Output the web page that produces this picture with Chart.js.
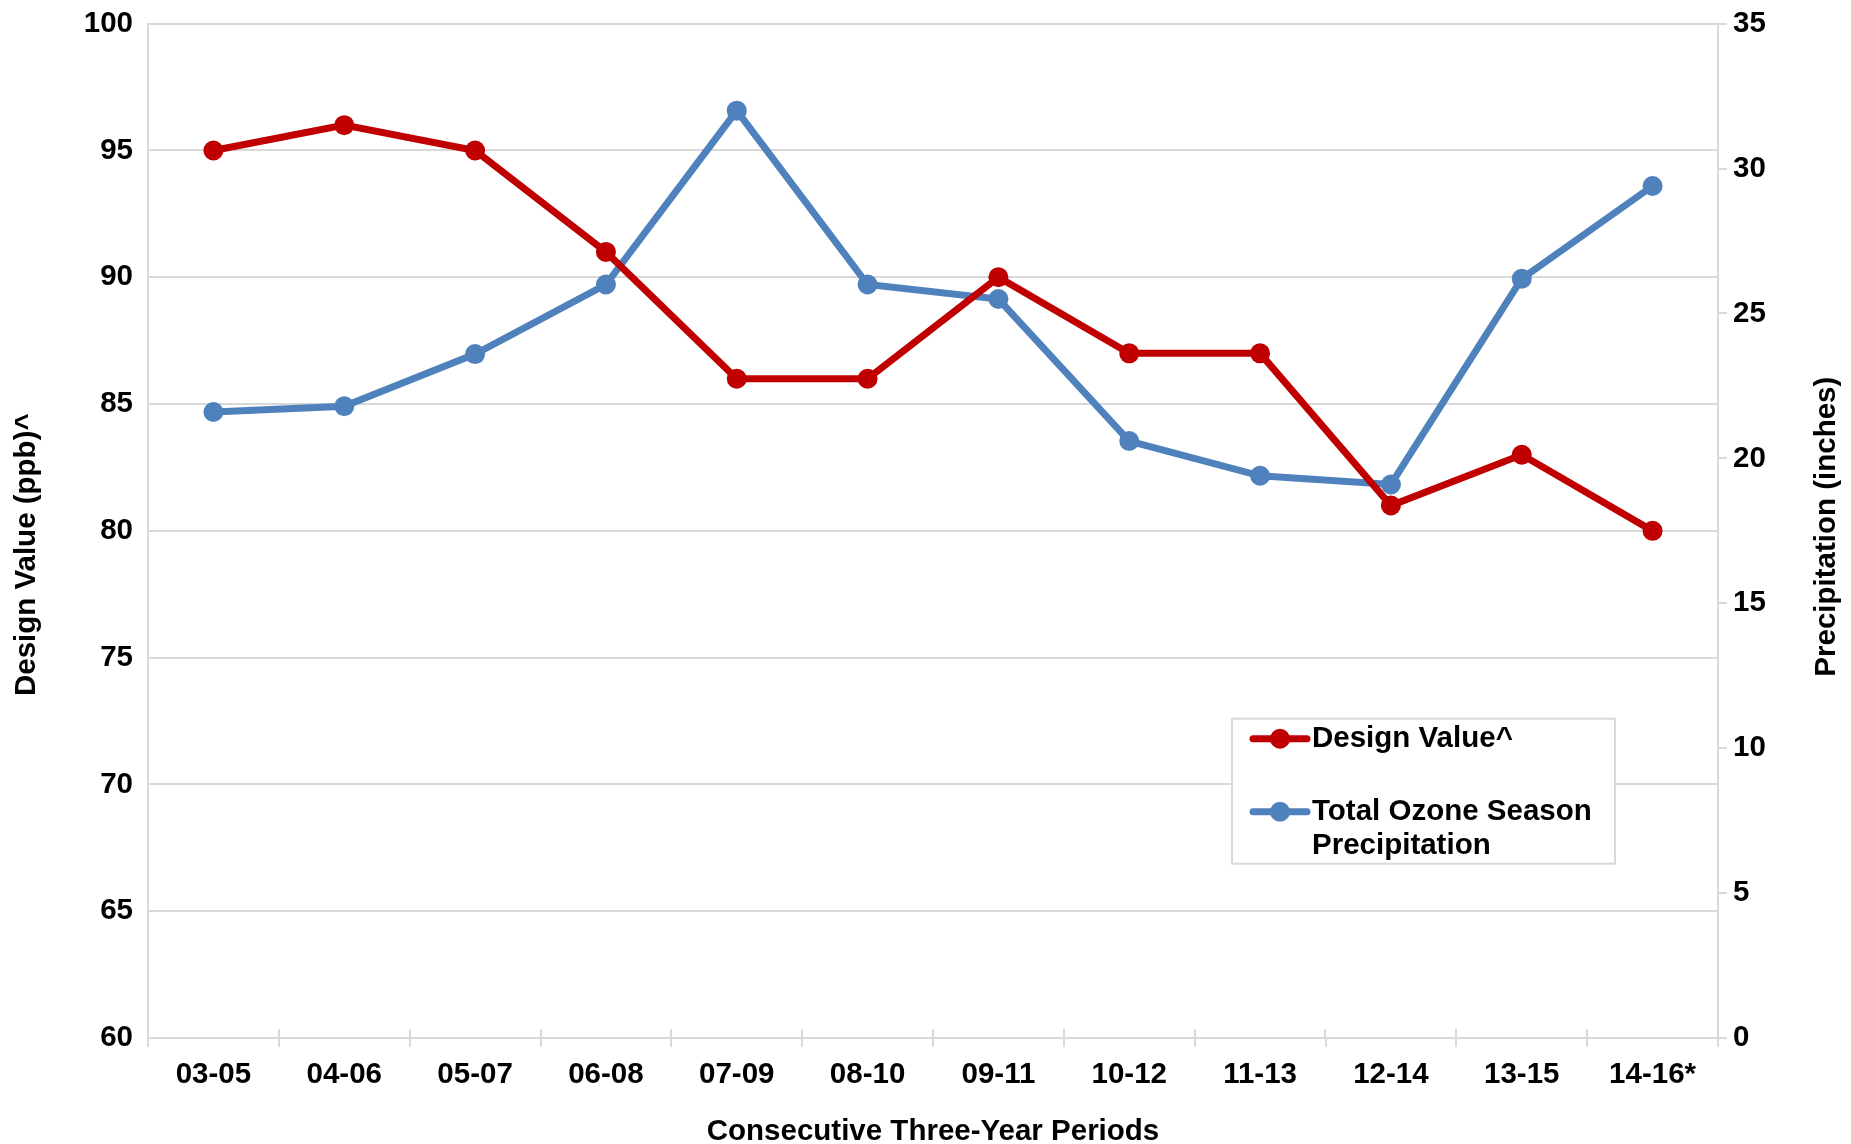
<!DOCTYPE html>
<html>
<head>
<meta charset="utf-8">
<title>Design Value vs Ozone Season Precipitation</title>
<script src="https://cdn.jsdelivr.net/npm/chart.js"></script>
<style>
  body { margin: 0; background: #fff; }
  #my-chart { display: block; }
</style>
</head>
<body>
<canvas id="my-chart" width="1851" height="1144"></canvas>
<script>
'use strict';

// DATA
let periods = ['03-05', '04-06', '05-07', '06-08', '07-09', '08-10', '09-11', '10-12', '11-13', '12-14', '13-15', '14-16*'];
let designValues = [95, 96, 95, 91, 86, 86, 90, 87, 87, 81, 83, 80];
let precipValues = [21.6, 21.8, 23.6, 26.0, 32.0, 26.0, 25.5, 20.6, 19.4, 19.1, 26.2, 29.4];
let designTicks = [60, 65, 70, 75, 80, 85, 90, 95, 100];
let precipTicks = [0, 5, 10, 15, 20, 25, 30, 35];

let designLabel = ['Design Value^'];
let precipLabel = ['Total Ozone Season', 'Precipitation'];

// STYLE
let red = '#c00000';
let blue = '#4f81bd';
let gridGray = '#d9d9d9';
let fontFamily = '"Liberation Sans", Arial, sans-serif';
let fontSize = 29.5;
let boldFont = { family: fontFamily, size: fontSize, weight: 'bold' };

let canvasElem = document.getElementById('my-chart');

// legend box inside the plot, small x ticks above the axis, both y titles (bottom-to-top)
let extrasPlugin = {
  id: 'extras',
  afterDraw(chart) {
    let ctx = chart.ctx;
    let area = chart.chartArea;
    let xScale = chart.scales.x;

    ctx.save();

    // x tick marks poke up into the plot a little
    ctx.strokeStyle = gridGray;
    ctx.lineWidth = 2;
    let step = xScale.getPixelForValue(1) - xScale.getPixelForValue(0);
    ctx.beginPath();
    for (let i = 0; i <= periods.length; i++) {
      let x = Math.round(xScale.getPixelForValue(i) - step / 2);
      ctx.moveTo(x, area.bottom);
      ctx.lineTo(x, area.bottom - 9);
    }
    ctx.stroke();

    let boxX = area.right - 486;
    let boxY = area.top + 695;
    let boxW = 383;
    let boxH = 145;

    ctx.fillStyle = '#fff';
    ctx.fillRect(boxX, boxY, boxW, boxH);
    ctx.strokeRect(boxX, boxY, boxW, boxH);

    let entries = [
      { color: red, lines: designLabel, y: boxY + 20 },
      { color: blue, lines: precipLabel, y: boxY + 93 }
    ];
    ctx.font = 'bold ' + fontSize + 'px ' + fontFamily;
    ctx.textBaseline = 'middle';
    ctx.textAlign = 'left';
    for (let i = 0; i < entries.length; i++) {
      let e = entries[i];
      ctx.strokeStyle = e.color;
      ctx.lineWidth = 7;
      ctx.lineCap = 'round';
      ctx.beginPath();
      ctx.moveTo(boxX + 21, e.y);
      ctx.lineTo(boxX + 75, e.y);
      ctx.stroke();
      ctx.fillStyle = e.color;
      ctx.beginPath();
      ctx.arc(boxX + 48, e.y, 10, 0, Math.PI * 2);
      ctx.fill();
      ctx.fillStyle = '#000';
      for (let j = 0; j < e.lines.length; j++) {
        ctx.fillText(e.lines[j], boxX + 80, e.y + j * 34);
      }
    }

    ctx.textAlign = 'center';
    ctx.save();
    ctx.translate(27, area.top + 531);
    ctx.rotate(-Math.PI / 2);
    ctx.fillText('Design Value (ppb)^', 0, 0);
    ctx.restore();

    ctx.translate(chart.width - 24, area.top + 503);
    ctx.rotate(-Math.PI / 2);
    ctx.fillText('Precipitation (inches)', 0, 0);
    ctx.restore();
  }
};

let theChart = {
  type: 'line',
  data: {
    labels: periods,
    datasets: [{
      label: designLabel.join(' '),
      data: designValues,
      yAxisID: 'y',
      borderColor: red,
      backgroundColor: red,
      borderWidth: 7,
      pointRadius: 10,
      pointBorderWidth: 0,
      pointBackgroundColor: red,
      tension: 0
    },
    {
      label: precipLabel.join(' '),
      data: precipValues,
      yAxisID: 'y1',
      borderColor: blue,
      backgroundColor: blue,
      borderWidth: 7,
      pointRadius: 10,
      pointBorderWidth: 0,
      pointBackgroundColor: blue,
      tension: 0
    }]
  },
  options: {
    responsive: false,
    animation: false,
    layout: {
      padding: 0
    },
    plugins: {
      legend: { display: false },
      tooltip: { enabled: false }
    },
    scales: {
      x: {
        offset: true,
        grid: {
          offset: true,
          drawOnChartArea: false,
          color: gridGray,
          lineWidth: 2,
          tickLength: 9
        },
        border: { color: gridGray, width: 2 },
        ticks: {
          color: '#000',
          font: boldFont,
          padding: 10,
          maxRotation: 0
        },
        title: {
          display: true,
          text: 'Consecutive Three-Year Periods',
          color: '#000',
          font: { family: fontFamily, size: fontSize, weight: 'bold', lineHeight: 0.85 },
          padding: { top: 0, bottom: 0 }
        },
        afterFit(scale) {
          scale.height = 106;
        }
      },
      y: {
        position: 'left',
        min: 60,
        max: 100,
        afterBuildTicks(scale) {
          scale.ticks = designTicks.map(v => ({ value: v }));
        },
        grid: {
          color: gridGray,
          lineWidth: 2,
          tickLength: 9,
          tickColor: 'rgba(0,0,0,0)'
        },
        border: { color: gridGray, width: 2 },
        ticks: {
          color: '#000',
          font: boldFont,
          padding: 6
        },
        afterFit(scale) {
          scale.width = 148;
        }
      },
      y1: {
        position: 'right',
        min: 0,
        max: 35,
        afterBuildTicks(scale) {
          scale.ticks = precipTicks.map(v => ({ value: v }));
        },
        grid: {
          drawOnChartArea: false,
          color: gridGray,
          lineWidth: 2,
          tickLength: 9
        },
        border: { color: gridGray, width: 2 },
        ticks: {
          color: '#000',
          font: boldFont,
          padding: 6
        },
        afterFit(scale) {
          scale.width = 133;
        }
      }
    }
  },
  plugins: [extrasPlugin]
};

new Chart(canvasElem, theChart);
</script>
</body>
</html>
